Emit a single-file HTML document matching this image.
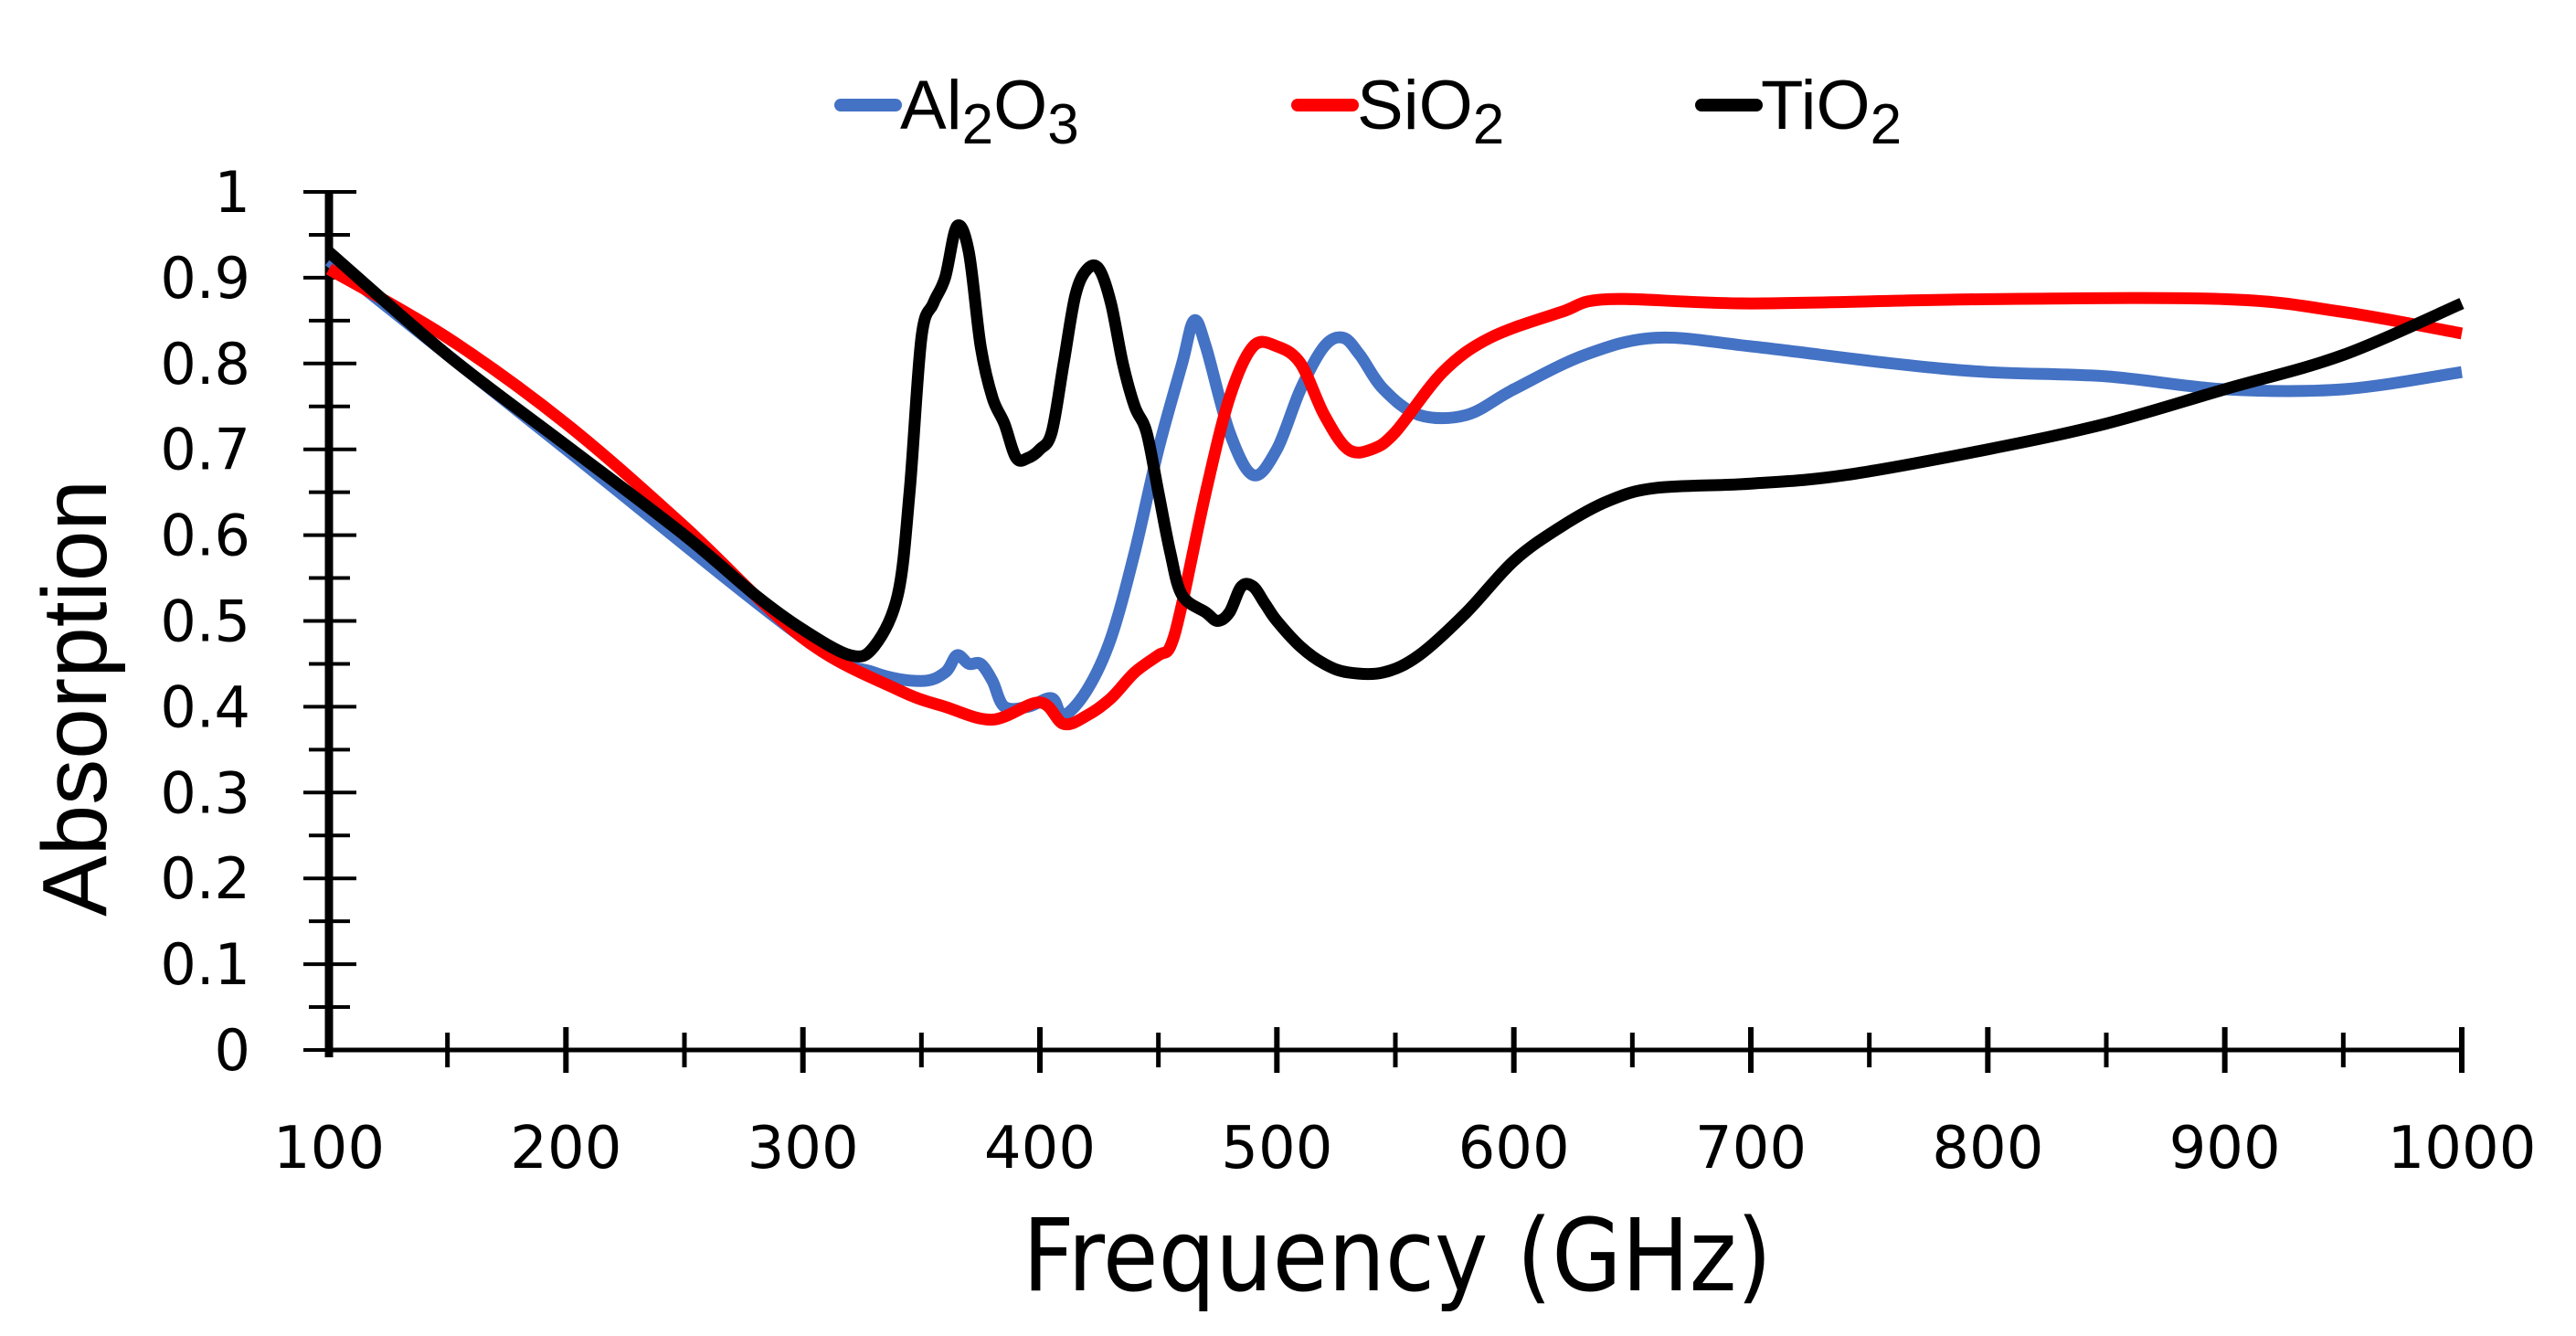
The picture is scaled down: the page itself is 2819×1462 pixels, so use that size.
<!DOCTYPE html>
<html><head><meta charset="utf-8"><style>
html,body{margin:0;padding:0;background:#fff;}
svg{display:block;font-family:"Liberation Sans",sans-serif;}
</style></head><body>
<svg id="chart" width="2819" height="1462" viewBox="0 0 2819 1462" xmlns="http://www.w3.org/2000/svg">
<g id="axes"></g>
<g id="series"></g>
<g id="legend">
  <line x1="920" y1="115" x2="980" y2="115" stroke="#4472c4" stroke-width="14" stroke-linecap="round"/>
  <text x="985" y="141" font-size="76" fill="#000">Al<tspan font-size="62" dy="16">2</tspan><tspan dy="-16">O</tspan><tspan font-size="62" dy="16">3</tspan></text>
  <line x1="1420" y1="115" x2="1480" y2="115" stroke="#ff0000" stroke-width="14" stroke-linecap="round"/>
  <text x="1485" y="141" font-size="76" fill="#000">SiO<tspan font-size="62" dy="16">2</tspan></text>
  <line x1="1862" y1="115" x2="1922" y2="115" stroke="#000" stroke-width="14" stroke-linecap="round"/>
  <text x="1927" y="141" font-size="76" fill="#000">TiO<tspan font-size="62" dy="16">2</tspan></text>
</g>
<text x="1529" y="1412" font-size="110" text-anchor="middle" fill="#000" font-family="DejaVu Sans, sans-serif" textLength="820" lengthAdjust="spacingAndGlyphs">Frequency (GHz)</text>
<text transform="translate(116,764) rotate(-90)" font-size="100" text-anchor="middle" fill="#000">Absorption</text>
</svg>
<script>
const xTicks=[100,200,300,400,500,600,700,800,900,1000];
const yTicks=[0,0.1,0.2,0.3,0.4,0.5,0.6,0.7,0.8,0.9,1];
const yTickLabels=["0","0.1","0.2","0.3","0.4","0.5","0.6","0.7","0.8","0.9","1"];
const tio2X=[100,150,200,250,280,300,320,330,340,345,350,355,360,365,370,375,380,385,390,395,400,405,410,415,420,425,430,435,440,445,450,455,460,470,475,480,485,490,495,500,510,520,530,545,560,580,600,620,640,660,700,740,800,850,900,950,1000];
const tio2Y=[0.93,0.81,0.705,0.6,0.53,0.49,0.46,0.47,0.53,0.65,0.83,0.87,0.9,0.96,0.93,0.82,0.76,0.73,0.69,0.69,0.7,0.72,0.8,0.88,0.91,0.91,0.87,0.8,0.75,0.72,0.65,0.58,0.53,0.51,0.5,0.51,0.54,0.54,0.52,0.5,0.47,0.45,0.44,0.44,0.46,0.51,0.57,0.61,0.64,0.655,0.66,0.67,0.7,0.73,0.77,0.81,0.87];
const al2o3X=[100,200,300,330,350,360,365,370,375,380,385,395,405,410,420,430,440,450,460,465,470,480,490,500,510,520,528,535,545,560,580,600,630,660,700,760,800,850,900,950,1000];
const al2o3Y=[0.92,0.7,0.48,0.44,0.43,0.44,0.46,0.45,0.45,0.43,0.4,0.4,0.41,0.39,0.42,0.48,0.58,0.7,0.8,0.85,0.82,0.72,0.67,0.7,0.77,0.82,0.83,0.81,0.77,0.74,0.74,0.77,0.81,0.83,0.82,0.8,0.79,0.785,0.77,0.77,0.79];
const sio2X=[100,150,200,250,300,340,360,380,400,410,420,430,440,450,455,460,470,480,490,500,510,520,530,540,550,570,590,620,640,700,800,900,950,1000];
const sio2Y=[0.91,0.83,0.73,0.61,0.48,0.42,0.4,0.385,0.405,0.38,0.39,0.41,0.44,0.46,0.47,0.52,0.65,0.76,0.82,0.82,0.8,0.74,0.7,0.7,0.72,0.79,0.83,0.86,0.875,0.87,0.875,0.875,0.86,0.835];

const NS="http://www.w3.org/2000/svg";
const X0=360,X1=2694,Y0=1149,Y1=210;
function sx(v){return X0+(v-100)/900*(X1-X0);}
function sy(v){return Y0-v*(Y0-Y1);}
function mk(tag,attrs,parent){const e=document.createElementNS(NS,tag);for(const k in attrs)e.setAttribute(k,attrs[k]);parent.appendChild(e);return e;}
const axes=document.getElementById('axes');
let e;
e=mk('line',{x1:X0,y1:Y1,x2:X0,y2:Y0+8,stroke:'#000','stroke-width':9},axes);


e=mk('line',{x1:X0,y1:Y0,x2:X1,y2:Y0,stroke:'#000','stroke-width':5},axes);


for(let i=0;i<=20;i++){const v=i*0.05;const major=i%2===0;
  e=mk('line',{x1:major?X0-28:X0-22,x2:major?X0+30:X0+23,y1:sy(v),y2:sy(v),stroke:'#000','stroke-width':4},axes);
  
  }
yTicks.forEach((v,i)=>{e=mk('text',{x:274,y:sy(v)+22,'font-size':62,'text-anchor':'end',fill:'#000','font-family':'DejaVu Sans, sans-serif'},axes);e.textContent=yTickLabels[i];
  
  });
for(let f=150;f<=1000;f+=50){const major=f%100===0;
  e=mk('line',{x1:sx(f),x2:sx(f),y1:major?Y0-25:Y0-19,y2:major?Y0+25:Y0+19,stroke:'#000','stroke-width':major?6:5},axes);
  
  }
xTicks.forEach(v=>{e=mk('text',{x:sx(v),y:1278,'font-size':64,'text-anchor':'middle',fill:'#000','font-family':'DejaVu Sans, sans-serif'},axes);e.textContent=String(v);
  
  });
function path(xs,ys){const p=xs.map((x,i)=>[sx(x),sy(ys[i])]);let d='M'+p[0][0]+','+p[0][1];
  for(let i=0;i<p.length-1;i++){const a=p[Math.max(0,i-1)],b=p[i],c=p[i+1],dd=p[Math.min(p.length-1,i+2)];
    const c1=[b[0]+(c[0]-a[0])/6,b[1]+(c[1]-a[1])/6],c2=[c[0]-(dd[0]-b[0])/6,c[1]-(dd[1]-b[1])/6];
    d+=' C'+c1[0]+','+c1[1]+' '+c2[0]+','+c2[1]+' '+c[0]+','+c[1];}
  return d;}
const sg=document.getElementById('series');
e=mk('path',{d:path(al2o3X,al2o3Y),fill:'none',stroke:'#4472c4','stroke-width':13,'stroke-linejoin':'round'},sg);


e=mk('path',{d:path(sio2X,sio2Y),fill:'none',stroke:'#ff0000','stroke-width':13,'stroke-linejoin':'round'},sg);


e=mk('path',{d:path(tio2X,tio2Y),fill:'none',stroke:'#000','stroke-width':13,'stroke-linejoin':'round'},sg);


</script>
</body></html>
